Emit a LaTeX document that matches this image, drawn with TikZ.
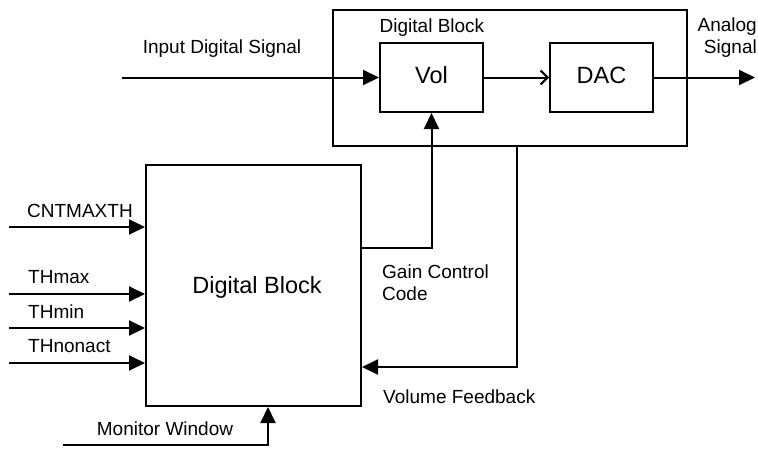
\documentclass[tikz,border=0pt]{standalone}
\usepackage{fontspec}
\setmainfont{Liberation Sans}
\usetikzlibrary{arrows.meta}
\begin{document}
\begin{tikzpicture}[x=1pt,y=-1pt,
  box/.style={draw,line width=2pt,inner sep=0pt},
  lbl/.style={inner sep=0pt,font=\fontsize{19}{22}\selectfont},
  big/.style={font=\fontsize{23.5}{28}\selectfont},
  wire/.style={line width=2pt},
  fa/.style={wire,-{Triangle[length=16pt,width=15pt]}},
  oa/.style={wire,-{Straight Barb[length=7pt,width=14pt,line width=2pt]}}]
\useasboundingbox (0,0) rectangle (758,448);
% boxes
\node[box,minimum width=354pt,minimum height=136pt] (outer) at (510,78) {};
\node[box,big,minimum width=103pt,minimum height=69pt,text height=14pt,text depth=3pt] (vol) at (431.5,77.5) {Vol};
\node[box,big,minimum width=103pt,minimum height=69pt,text height=14pt,text depth=3pt] (dac) at (601.5,77.5) {DAC};
\node[box,minimum width=215pt,minimum height=241pt] (blk) at (253.5,285.5) {};
\node[lbl,big,anchor=base] (blklbl) at (257,293) {Digital Block};
% labels
\node[lbl,anchor=base] (outerlbl) at (432,32) {Digital Block};
\node[lbl,anchor=base] (inlbl) at (222,53) {Input Digital Signal};
\node[lbl,anchor=north east,align=right] (anlbl) at (757,18) {Analog\\Signal};
\node[lbl,anchor=base west] (l1) at (27,217) {CNTMAXTH};
\node[lbl,anchor=base west] (l2) at (28,283) {THmax};
\node[lbl,anchor=base west] (l3) at (28,318) {THmin};
\node[lbl,anchor=base west] (l4) at (28,352) {THnonact};
\node[lbl,anchor=base] (mwlbl) at (165,435) {Monitor Window};
\node[lbl,anchor=north west,align=left] (gclbl) at (382,265) {Gain Control\\Code};
\node[lbl,anchor=base west] (vflbl) at (383,403) {Volume Feedback};
% coordinates
\coordinate (in) at (122,77.5);
\coordinate (out) at (755,77.5);
\coordinate (c1) at (9,227);
\coordinate (c2) at (9,294);
\coordinate (c3) at (9,328);
\coordinate (c4) at (9,363);
\coordinate (mw) at (63,445);
\coordinate (mwc) at (268,445);
\coordinate (gc) at (431.5,248);
\coordinate (fb) at (517,367);
% connectors
\draw[fa] (in) -- (vol.west);
\draw[oa] (vol.east) -- (dac.west);
\draw[fa] (dac.east) -- (out);
\draw[fa] (c1) -- (blk.west |- c1);
\draw[fa] (c2) -- (blk.west |- c2);
\draw[fa] (c3) -- (blk.west |- c3);
\draw[fa] (c4) -- (blk.west |- c4);
\draw[fa] (mw) -- (mwc) -- (blk.south -| mwc);
\draw[fa] (blk.east |- gc) -- (gc) -- (vol.south);
\draw[fa] (outer.south -| fb) -- (fb) -- (blk.east |- fb);
\end{tikzpicture}
\end{document}
